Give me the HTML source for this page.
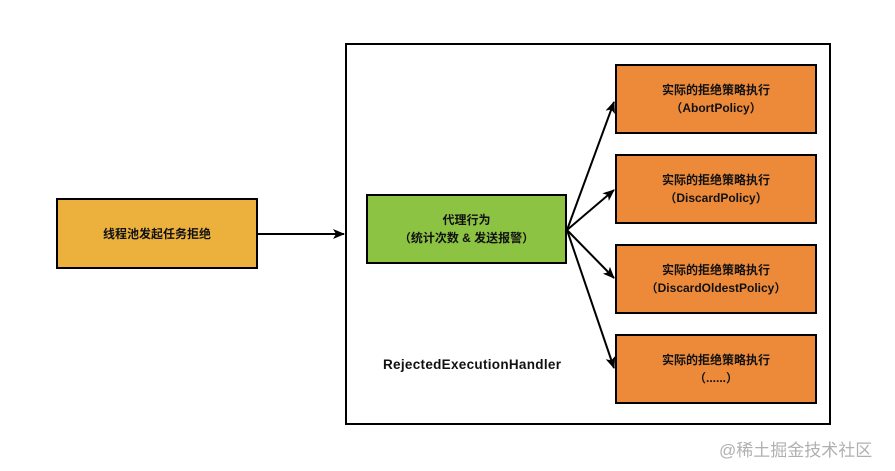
<!DOCTYPE html>
<html><head><meta charset="utf-8"><style>
body{margin:0;width:895px;height:471px;background:#fff;overflow:hidden;position:relative;font-family:"Liberation Sans","Noto Sans CJK SC",sans-serif;}
.b{position:absolute;box-sizing:border-box;border:2px solid #000;display:flex;flex-direction:column;align-items:center;justify-content:center;font-size:12px;font-weight:bold;line-height:18px;text-align:center;color:#111;}
.o{background:#ec8a3a;left:615px;width:202px;height:70px;}
.t{position:absolute;}
</style></head><body>
<div class="b" style="left:345px;top:43px;width:486px;height:382px;"></div>
<div class="b" style="left:56px;top:198px;width:202px;height:71px;background:#ecb13d;">线程池发起任务拒绝</div>
<div class="b" style="left:366px;top:194px;width:201px;height:70px;background:#8dc343;"><div>代理行为</div><div>（统计次数 &amp; 发送报警）</div></div>
<div class="b o" style="top:64px;"><div>实际的拒绝策略执行</div><div>（AbortPolicy）</div></div>
<div class="b o" style="top:154px;"><div>实际的拒绝策略执行</div><div>（DiscardPolicy）</div></div>
<div class="b o" style="top:244px;"><div>实际的拒绝策略执行</div><div>（DiscardOldestPolicy）</div></div>
<div class="b o" style="top:334px;"><div>实际的拒绝策略执行</div><div>（......）</div></div>
<div class="t" style="left:383px;top:357px;font-size:13.5px;font-weight:bold;color:#111;letter-spacing:0.3px;">RejectedExecutionHandler</div>
<div class="t" style="left:719px;top:436px;font-size:17px;color:#b0b0b0;">@稀土掘金技术社区</div>
<svg width="895" height="471" style="position:absolute;left:0;top:0">
<defs><marker id="a" markerWidth="12" markerHeight="10" refX="11" refY="5" orient="auto" markerUnits="userSpaceOnUse"><path d="M0,0 L12,5 L0,10 L3,5 Z" fill="#000"/></marker></defs>
<g stroke="#000" stroke-width="2" fill="none">
<line x1="258" y1="234" x2="344" y2="234" marker-end="url(#a)"/>
<line x1="567" y1="230" x2="614" y2="102" marker-end="url(#a)"/>
<line x1="567" y1="230" x2="614" y2="190" marker-end="url(#a)"/>
<line x1="567" y1="230" x2="614" y2="278" marker-end="url(#a)"/>
<line x1="567" y1="230" x2="614" y2="368" marker-end="url(#a)"/>
</g></svg>
</body></html>
